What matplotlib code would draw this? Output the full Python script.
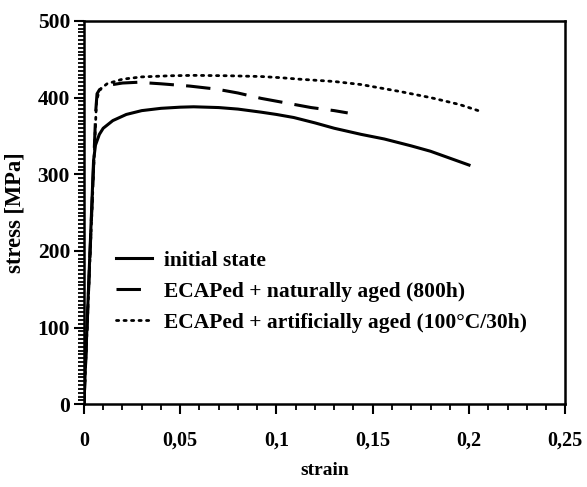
import matplotlib
matplotlib.use("Agg")
import matplotlib.pyplot as plt
from matplotlib.ticker import MultipleLocator, FuncFormatter

# ==== data ====
strain_init = [0, 0.005, 0.006, 0.008, 0.01, 0.015, 0.022, 0.03, 0.04, 0.05, 0.057, 0.07, 0.08,
               0.092, 0.1, 0.109, 0.12, 0.13, 0.144, 0.156, 0.17, 0.18, 0.19, 0.2]
stress_init = [0, 318, 338, 352, 360, 370, 378, 383, 386, 387.5, 388, 387, 385,
               381, 378, 374, 367, 360, 352, 346, 337, 330, 321, 312]

strain_nat = [0, 0.0062, 0.0068, 0.008, 0.01, 0.015, 0.02, 0.028, 0.04, 0.055, 0.069,
              0.08, 0.092, 0.105, 0.118, 0.13, 0.137]
stress_nat = [0, 385, 405, 410, 413, 417, 419, 420, 418, 415, 411,
              406, 399, 393, 387, 383, 380]

strain_art = [0, 0.0065, 0.008, 0.012, 0.02, 0.03, 0.045, 0.057, 0.075, 0.092, 0.102,
              0.112, 0.13, 0.144, 0.164, 0.18, 0.195, 0.206]
stress_art = [0, 395, 410, 418, 424, 427, 428.5, 429, 428.5, 427.5, 426,
              424, 421, 417, 408, 400, 391, 382]

labels = ["initial state", "ECAPed + naturally aged (800h)",
          "ECAPed + artificially aged (100°C/30h)"]

plt.rcParams["font.family"] = ["Liberation Serif", "DejaVu Serif"]
plt.rcParams["font.weight"] = "bold"

fig = plt.figure(figsize=(5.87, 4.87), dpi=100)
ax = fig.add_axes([0.143, 0.170, 0.820, 0.787])

ax.plot(strain_init, stress_init, color="black", lw=2.2, ls="-", label=labels[0])
ax.plot(strain_nat, stress_nat, color="black", lw=2.2, ls=(0, (8, 4)), label=labels[1])
ax.plot(strain_art, stress_art, color="black", lw=2.0, ls=(0, (0.8, 1.9)),
        dash_capstyle="round", label=labels[2])

ax.set_xlim(0, 0.25)
ax.set_ylim(0, 500)
ax.xaxis.set_major_locator(MultipleLocator(0.05))
ax.xaxis.set_minor_locator(MultipleLocator(0.01))
ax.yaxis.set_major_locator(MultipleLocator(100))
ax.yaxis.set_minor_locator(MultipleLocator(5))
ax.xaxis.set_major_formatter(FuncFormatter(lambda v, p: ("%g" % round(v, 3)).replace(".", ",")))

ax.tick_params(which="major", direction="out", length=7, width=1.5, pad=12)
ax.tick_params(axis="x", which="major", labelsize=14.5)
ax.tick_params(axis="y", which="major", labelsize=15.5, pad=3)
ax.tick_params(which="minor", direction="out", length=4, width=1.3)
for s in ax.spines.values():
    s.set_linewidth(1.8)

ax.set_xlabel("strain", fontsize=14, fontweight="bold", labelpad=8)
ax.set_ylabel("stress [MPa]", fontsize=16.3, fontweight="bold", labelpad=9)

ax.legend(loc="upper left", bbox_to_anchor=(0.066, 0.40), frameon=False,
          fontsize=15.5, handlelength=1.7, handletextpad=0.55, labelspacing=0.5,
          borderaxespad=0, borderpad=0)

fig.savefig("out.png", dpi=100)
